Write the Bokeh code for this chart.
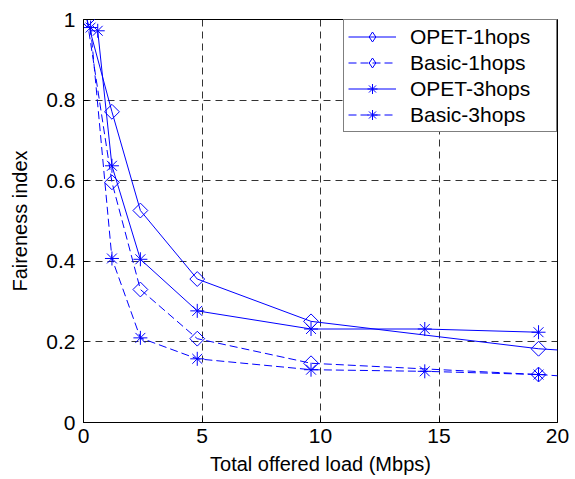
import math
from bokeh.plotting import figure
from bokeh.models import FixedTicker, Legend, Range1d
from bokeh.embed import file_html
from bokeh.resources import INLINE

# ---- data ----
opet1_x = [0.15, 1.2, 2.4, 4.8, 9.6, 19.2]
opet1_y = [1.0, 0.771, 0.526, 0.356, 0.251, 0.183]
basic1_x = [0.15, 1.2, 2.4, 4.8, 9.6, 19.2]
basic1_y = [1.0, 0.596, 0.330, 0.208, 0.147, 0.119]
# the 1hops lines continue to the axis edge at x = 20
edge_x = 20.0
opet1_edge_y = 0.180
basic1_edge_y = 0.116

opet3_x = [0.6, 1.2, 2.4, 4.8, 9.6, 14.4, 19.2]
opet3_y = [0.972, 0.637, 0.405, 0.277, 0.232, 0.232, 0.224]
basic3_x = [0.3, 1.2, 2.4, 4.8, 9.6, 14.4, 19.2]
basic3_y = [0.98, 0.407, 0.210, 0.158, 0.131, 0.127, 0.119]

x_ticks = [0, 5, 10, 15, 20]
y_ticks = [0, 0.2, 0.4, 0.6, 0.8, 1]

BLUE = "#0000ff"
FONT = "Liberation Sans"

p = figure(width=575, height=479, output_backend="svg", toolbar_location=None,
           x_range=(0, 20), y_range=(0, 1),
           min_border_left=83, min_border_right=18, min_border_top=19, min_border_bottom=57)
p.background_fill_color = "white"
p.border_fill_color = "white"
p.outline_line_color = "black"
p.outline_line_width = 1
# a range that keeps legend-only symbols out of view
p.extra_x_ranges = {"legend_only": Range1d(-1000, -999)}

for ax in (p.xaxis[0], p.yaxis[0]):
    ax.major_label_text_font = FONT
    ax.major_label_text_font_size = "21px"
    ax.major_label_text_color = "black"
    ax.axis_label_text_font = FONT
    ax.axis_label_text_font_size = "20px"
    ax.axis_label_text_font_style = "normal"
    ax.axis_label_text_color = "black"
    ax.axis_line_color = "black"
    ax.major_tick_in = 5
    ax.major_tick_out = 0
    ax.minor_tick_line_color = None
    ax.major_tick_line_color = "black"

p.xaxis[0].ticker = FixedTicker(ticks=x_ticks)
p.yaxis[0].ticker = FixedTicker(ticks=y_ticks)
p.yaxis[0].major_label_overrides = {0: "0", 1: "1"}
p.xaxis[0].axis_label = "Total offered load (Mbps)"
p.yaxis[0].axis_label = "Faireness index"
p.xaxis[0].major_label_standoff = 6
p.xaxis[0].axis_label_standoff = 7
p.yaxis[0].major_label_standoff = 8
p.yaxis[0].axis_label_standoff = 12

p.xgrid.ticker = FixedTicker(ticks=x_ticks[1:-1])
p.ygrid.ticker = FixedTicker(ticks=y_ticks[1:-1])
for g in (p.xgrid[0], p.ygrid[0]):
    g.grid_line_color = "black"
    g.grid_line_alpha = 0.8
    g.grid_line_dash = "7 5"
    g.grid_line_width = 1

DSIZE = 10.5
SSIZE = 14
r1 = p.line(opet1_x + [edge_x], opet1_y + [opet1_edge_y], line_color=BLUE, line_width=1)
p.scatter(opet1_x, opet1_y, marker="square", angle=math.pi / 4, size=DSIZE,
          fill_color=None, line_color=BLUE, line_width=1)
r2 = p.line(basic1_x + [edge_x], basic1_y + [basic1_edge_y], line_color=BLUE, line_width=1, line_dash="8 4")
p.scatter(basic1_x, basic1_y, marker="square", angle=math.pi / 4, size=DSIZE,
          fill_color=None, line_color=BLUE, line_width=1)
r3 = p.line(opet3_x, opet3_y, line_color=BLUE, line_width=1)
m3 = p.scatter(opet3_x, opet3_y, marker="asterisk", size=SSIZE, line_color=BLUE, line_width=1)
r4 = p.line(basic3_x, basic3_y, line_color=BLUE, line_width=1, line_dash="8 4")
m4 = p.scatter(basic3_x, basic3_y, marker="asterisk", size=SSIZE, line_color=BLUE, line_width=1)

# legend-only diamond symbols (the legend does not rotate markers)
k1 = p.scatter(opet1_x, opet1_y, x_range_name="legend_only", marker="diamond", size=18,
               fill_color=None, line_color=BLUE, line_width=1)
k2 = p.scatter(basic1_x, basic1_y, x_range_name="legend_only", marker="diamond", size=18,
               fill_color=None, line_color=BLUE, line_width=1)

legend = Legend(items=[("OPET-1hops", [r1, k1]), ("Basic-1hops", [r2, k2]),
                       ("OPET-3hops", [r3, m3]), ("Basic-3hops", [r4, m4])],
                location="top_right")
legend.margin = 0
legend.padding = 4
legend.spacing = 1
legend.border_line_color = "black"
legend.border_line_width = 1
legend.background_fill_color = "white"
legend.background_fill_alpha = 1
legend.label_text_font = FONT
legend.label_text_font_size = "21px"
legend.label_text_color = "black"
legend.glyph_width = 48
legend.glyph_height = 25
legend.label_standoff = 14
legend.label_height = 25
legend.label_width = 142
p.add_layout(legend)

open("out.html", "w").write(file_html(p, INLINE))
